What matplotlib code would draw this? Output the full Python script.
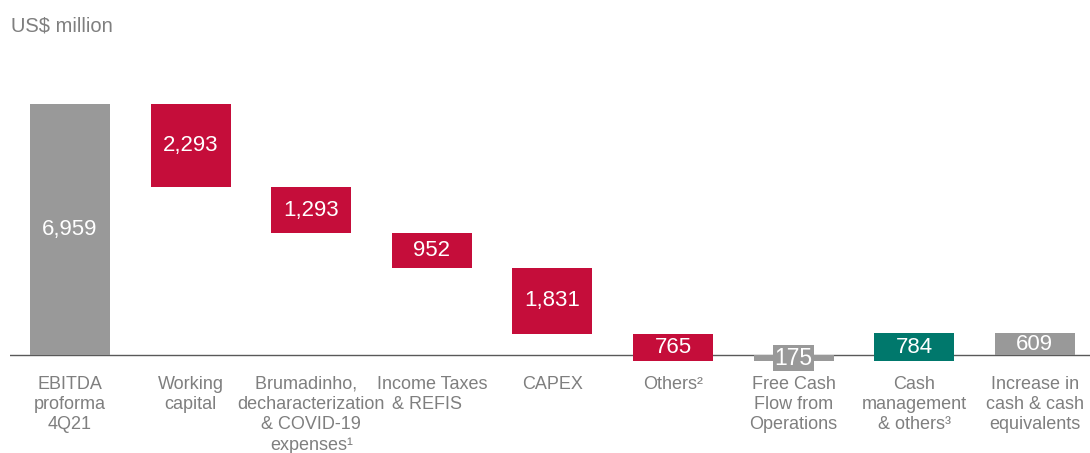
import matplotlib.pyplot as plt

plt.rcParams['font.family'] = ['Liberation Sans', 'DejaVu Sans']

# cash flow bridge, US$ million
categories = ['EBITDA\nproforma\n4Q21', 'Working\ncapital',
              'Brumadinho,  \ndecharacterization\n& COVID-19\nexpenses¹',
              'Income Taxes\n& REFIS  ', 'CAPEX', 'Others²',
              'Free Cash\nFlow from\nOperations', 'Cash\nmanagement\n& others³',
              'Increase in\ncash & cash\nequivalents']
values = [6959, -2293, -1293, -952, -1831, -765, -175, 784, 609]
is_total = [True, False, False, False, False, False, True, False, True]

GRAY = '#999999'
RED = '#C50D3A'
GREEN = '#00786C'
TEXT = '#7F7F7F'

fig = plt.figure(figsize=(10.9, 4.53), dpi=100)
ax = fig.add_axes([10 / 1090, (453 - 365) / 453, 1080 / 1090, 265 / 453])

running = 0
for i, (cat, v, tot) in enumerate(zip(categories, values, is_total)):
    if tot:
        bottom, height = 0, v
        color = GRAY
        running = v
    else:
        bottom, height = running, v
        color = RED if v < 0 else GREEN
        running += v
    ax.bar(i, height, bottom=bottom, width=0.663, color=color, zorder=2)
    mid = bottom + height / 2
    label = f'{abs(v):,}'
    if i == 6:
        # thin bar: label sits on a grey box over the baseline
        ax.text(i, mid, label, ha='center', va='center', color='white',
                fontsize=16.5, zorder=3,
                bbox=dict(boxstyle='square,pad=0.06', fc=GRAY, ec='none'))
    else:
        ax.text(i, mid, label, ha='center', va='center', color='white',
                fontsize=16, zorder=3)
    ax.annotate(cat, xy=(i, 0), xytext=(0, -15), textcoords='offset points',
                ha='center', va='top', color=TEXT, fontsize=13,
                linespacing=1.25, annotation_clip=False)

ax.axhline(0, color='#595959', linewidth=1, zorder=1)
ax.set_xlim(-0.4975, 8.458)
ax.set_ylim(-277, 7070)
ax.axis('off')

fig.text(11 / 1090, 1 - 26 / 453, 'US$ million', ha='left', va='center',
         color=TEXT, fontsize=14.5)

fig.savefig('out.png', dpi=100)
